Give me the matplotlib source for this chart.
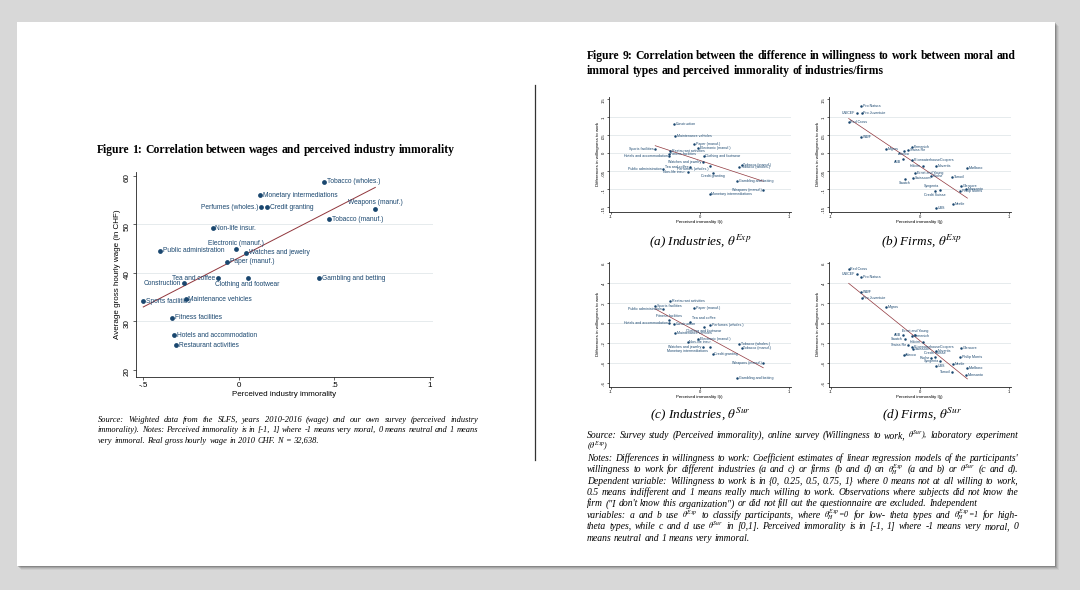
import numpy as np
import matplotlib
matplotlib.use('Agg')
import matplotlib.pyplot as plt
from matplotlib.patches import Rectangle
from matplotlib.lines import Line2D

W, H = 1080, 590

# ---- values ----
industries = ['Tobacco (wholes.)', 'Monetary intermediations', 'Perfumes (wholes.)', 'Credit granting',
              'Weapons (manuf.)', 'Tobacco (manuf.)', 'Non-life insur.', 'Electronic (manuf.)',
              'Public administration', 'Watches and jewelry', 'Paper (manuf.)', 'Tea and coffee',
              'Clothing and footwear', 'Gambling and betting', 'Construction', 'Maintenance vehicles',
              'Sports facilities', 'Fitness facilities', 'Hotels and accommodation', 'Restaurant activities']
industry_immorality = [0.445, 0.112, 0.117, 0.147, 0.714, 0.472, -0.137, -0.015, -0.413, 0.037,
                       -0.062, -0.109, 0.046, 0.421, -0.287, -0.278, -0.500, -0.350, -0.340, -0.329]
industry_wage = [58.7, 56.0, 53.5, 53.5, 53.2, 51.0, 49.2, 44.8, 44.5, 44.15,
                 42.3, 38.9, 38.9, 38.9, 37.8, 34.6, 34.1, 30.7, 27.1, 25.1]
industry_diff_exp = [-0.039, -0.112, -0.035, -0.054, -0.101, -0.032, -0.051, 0.015, -0.044, -0.024,
                     0.026, -0.038, -0.008, -0.078, 0.080, 0.048, 0.010, -0.003, -0.007, 0.005]
industry_diff_sur = [-0.215, -0.241, -0.020, -0.312, -0.399, -0.255, -0.188, -0.164, 0.137, -0.241,
                     0.151, 0.010, -0.045, -0.556, -0.010, -0.104, 0.168, 0.030, -0.003, 0.225]

firms = ['Pro Natura', 'UNICEF', 'Pro Juventute', 'Red Cross', 'WWF', 'Migros', 'Firmenich', 'Swiss Re',
         'Adecco', 'ABB', 'PricewaterhouseCoopers', 'Holcim', 'Novartis', 'Marlboro', 'Ernst and Young',
         'Roche', 'Tamoil', 'Swisscom', 'Swatch', 'Glencore', 'Monsanto', 'Philip Morris', 'Syngenta',
         'Credit Suisse', 'Nestle', 'UBS']
firm_immorality = [-0.659, -0.704, -0.652, -0.798, -0.655, -0.375, -0.086, -0.127, -0.180, -0.191,
                   -0.090, 0.037, 0.180, 0.536, -0.052, 0.131, 0.367, -0.075, -0.169, 0.468,
                   0.517, 0.457, 0.232, 0.169, 0.378, 0.187]
firm_diff_exp = [0.130, 0.110, 0.111, 0.085, 0.044, 0.012, 0.018, 0.008, 0.007, -0.015,
                 -0.018, -0.035, -0.035, -0.042, -0.054, -0.063, -0.067, -0.069, -0.072, -0.090,
                 -0.098, -0.106, -0.102, -0.106, -0.142, -0.151]
firm_diff_sur = [0.459, 0.493, 0.255, 0.543, 0.315, 0.164, -0.131, -0.225, -0.325, -0.124,
                 -0.238, -0.188, -0.278, -0.456, -0.117, -0.349, -0.489, -0.258, -0.164, -0.251,
                 -0.523, -0.345, -0.386, -0.339, -0.412, -0.432]

# fitted lines as drawn (intercept, slope)
fit_wage = (43.1, 20.26)
fit_ind_exp = (-0.020, -0.081)
fit_ind_sur = (-0.102, -0.487)
fit_firm_exp = (-0.036, -0.165)
fit_firm_sur = (-0.176, -0.720)

NAVY = '#1a476f'
MAROON = '#90353b'
GRID = '#e2e8ea'
SANS = 'Liberation Sans'
SERIF = 'Liberation Serif'

plt.rcParams['mathtext.fontset'] = 'stix'
fig = plt.figure(figsize=(W / 100, H / 100), dpi=100, facecolor='#d8d8d8')
R = fig.canvas.get_renderer()


def rect(x0, y0, x1, y1):
    return [x0 / W, 1 - y1 / H, (x1 - x0) / W, (y1 - y0) / H]


# page with a soft shadow (kept behind the axes)
for off, a in [(4, 0.05), (3, 0.08), (2, 0.12), (1, 0.18)]:
    fig.patches.append(Rectangle(((17 + off) / W, 1 - (566 + off) / H), 1038 / W, 544 / H,
                                 transform=fig.transFigure, facecolor='black', alpha=a,
                                 edgecolor='none', zorder=-10))
fig.patches.append(Rectangle((17 / W, 1 - 566 / H), 1038 / W, 544 / H, transform=fig.transFigure,
                             facecolor='white', edgecolor='none', zorder=-9))
fig.add_artist(Line2D([535 / W, 535 / W], [1 - 85 / H, 1 - 460 / H], color='#333333', lw=0.9))


def width_of(s, **kw):
    t = fig.text(0, 0, s, **kw)
    w = t.get_window_extent(R).width
    t.remove()
    return w


def fit_size(lines, target, size, **kw):
    # largest font size at which every justified line still fits its width
    return min(size * target / width_of(s, fontsize=size, **kw) for s in lines)


def text_line(s, x0, y, x1=None, fontsize=7, **kw):
    words = s.split(' ')
    # math tokens (theta with super/subscripts) a little smaller so they stay inside the line
    arts = [fig.text(x0 / W, 1 - y / H, w, ha='left', va='baseline',
                     fontsize=fontsize * (0.85 if '$' in w else 1), **kw) for w in words]
    ws = [a.get_window_extent(R).width for a in arts]
    space = width_of('a b', fontsize=fontsize, **kw) - width_of('ab', fontsize=fontsize, **kw)
    gap = space if x1 is None else max((x1 - x0 - sum(ws)) / (len(words) - 1), 1.2)
    x = x0
    for a, w in zip(arts, ws):
        a.set_x(x / W)
        x += w + gap


def scatter(box, x, y, names, fit, xlim, ylim, xticks, xlabs, yticks, ylabs, xlabel, ylabel,
            ms, fs, tfs, lfs, lw, places):
    ax = fig.add_axes(rect(*box))
    ax.set_facecolor('white')
    for t in yticks[1:-1]:
        ax.axhline(t, color=GRID, lw=0.6, zorder=0)
    x = np.array(x)
    xs = np.array([x.min(), x.max()])
    ax.plot(xs, fit[0] + fit[1] * xs, color=MAROON, lw=lw, zorder=2)
    ax.scatter(x, y, s=ms, color=NAVY, zorder=3, linewidths=0)
    gap = 2.0 if fs > 4 else 1.2
    for xi, yi, nm in zip(x, y, names):
        p = places.get(nm, 'r')
        off, ha, va = {'r': ((gap, 0), 'left', 'center'), 'l': ((-gap, 0), 'right', 'center'),
                       't': ((0, gap), 'center', 'bottom'), 'b': ((0, -gap), 'center', 'top'),
                       'br': ((gap, -gap), 'left', 'top'), 'tr': ((gap, gap), 'left', 'bottom'),
                       'bl': ((-gap, -gap), 'right', 'top'), 'tl': ((-gap, gap), 'right', 'bottom')}[p]
        ax.annotate(nm, (xi, yi), xytext=off, textcoords='offset points', ha=ha, va=va,
                    fontsize=fs, color=NAVY, family=SANS, zorder=4)
    ax.set_xlim(*xlim)
    ax.set_ylim(*ylim)
    ax.set_xticks(xticks)
    ax.set_xticklabels(xlabs)
    ax.set_yticks(yticks)
    ax.set_yticklabels(ylabs)
    for s in ['top', 'right']:
        ax.spines[s].set_visible(False)
    for s in ['left', 'bottom']:
        ax.spines[s].set_color('#222222')
        ax.spines[s].set_linewidth(0.6)
    ax.tick_params(length=2.2 if tfs > 4 else 1.4, width=0.5, color='#222222', labelsize=tfs,
                   pad=1.5 if tfs > 4 else 1.0)
    ax.tick_params(axis='y', labelrotation=90)
    for t in ax.get_xticklabels() + ax.get_yticklabels():
        t.set_family(SANS)
    ax.set_xlabel(xlabel, fontsize=lfs, family=SANS, labelpad=1.5 if lfs > 4 else 1.0)
    ax.set_ylabel(ylabel, fontsize=lfs, family=SANS, labelpad=2 if lfs > 4 else 1.0)
    return ax


bold = dict(family=SERIF, weight='bold')
ital = dict(family=SERIF, style='italic')

# ---------------- Figure 1 ----------------
t1 = 'Figure 1: Correlation between wages and perceived industry immorality'
fs_t = fit_size([t1], 453 - 97, 8, **bold)
text_line(t1, 97, 153, **bold, fontsize=fs_t)

places1 = {'Perfumes (wholes.)': 'l', 'Weapons (manuf.)': 't', 'Electronic (manuf.)': 't',
           'Tea and coffee': 'l', 'Clothing and footwear': 'b', 'Construction': 'l'}
scatter((136, 171.7, 433, 377), industry_immorality, industry_wage, industries, fit_wage,
        (-0.538, 1.016), (18.56, 60.8), [-0.5, 0, 0.5, 1], ['-.5', '0', '.5', '1'],
        [20, 30, 40, 50, 60], ['20', '30', '40', '50', '60'],
        'Perceived industry immorality', 'Average gross hourly wage (in CHF)',
        ms=12, fs=4.8, tfs=5.8, lfs=5.8, lw=0.7, places=places1)

src1 = ['Source: Weighted data from the SLFS, years 2010-2016 (wage) and our own survey (perceived industry',
        'immorality). Notes: Perceived immorality is in [-1, 1] where -1 means very moral, 0 means neutral and 1 means',
        'very immoral. Real gross hourly wage in 2010 CHF. N = 32,638.']
fs_s = fit_size(src1[:2], 478 - 98, 7, **ital)
for i, s in enumerate(src1):
    text_line(s, 98, 422 + 10.3 * i, 478 if i < 2 else None, **ital, fontsize=fs_s)

# ---------------- Figure 9 ----------------
t9 = ['Figure 9: Correlation between the difference in willingness to work between moral and',
      'immoral types and perceived immorality of industries/firms']
fs_t9 = fit_size(t9[:1], 1017 - 587, 8, **bold)
text_line(t9[0], 587, 59, **bold, fontsize=fs_t9)
text_line(t9[1], 587, 74, **bold, fontsize=fs_t9)

small = dict(ms=3.2, fs=2.6, tfs=3.0, lfs=3.2, lw=0.5)
yt1 = [-0.15, -0.1, -0.05, 0, 0.05, 0.1, 0.15]
yl1 = ['-.15', '-.1', '-.05', '0', '.05', '.1', '.15']
yt2 = [-0.6, -0.4, -0.2, 0, 0.2, 0.4, 0.6]
yl2 = ['-.6', '-.4', '-.2', '0', '.2', '.4', '.6']
ylab = 'Differences in willingness to work'

places_a = {'Sports facilities': 'l', 'Hotels and accommodation': 'l', 'Watches and jewelry': 'l',
            'Tea and coffee': 'l', 'Public administration': 'l', 'Non-life insur.': 'l',
            'Perfumes (wholes.)': 'bl', 'Credit granting': 'b', 'Weapons (manuf.)': 'l'}
places_b = {'UNICEF': 'l', 'ABB': 'bl', 'Adecco': 'b', 'Holcim': 'l', 'Swatch': 'b',
            'Credit Suisse': 'b', 'Syngenta': 'tl'}
places_c = {'Public administration': 'l', 'Hotels and accommodation': 'l', 'Fitness facilities': 't',
            'Tea and coffee': 'tr', 'Clothing and footwear': 'b', 'Watches and jewelry': 'l',
            'Monetary intermediations': 'bl', 'Weapons (manuf.)': 'l'}
places_d = {'UNICEF': 'l', 'ABB': 'l', 'Swatch': 'l', 'Holcim': 'l', 'Swiss Re': 'l',
            'Ernst and Young': 't', 'Roche': 'l', 'Credit Suisse': 't', 'Syngenta': 'l', 'Tamoil': 'l'}

scatter((609, 96.7, 790.5, 211.7), industry_immorality, industry_diff_exp, industries, fit_ind_exp,
        (-1.019, 1.02), (-0.162, 0.156), [-1, 0, 1], ['-1', '0', '1'], yt1, yl1,
        'Perceived immorality I(i)', ylab, places=places_a, **small)
scatter((829, 96.7, 1010.5, 211.7), firm_immorality, firm_diff_exp, firms, fit_firm_exp,
        (-1.019, 1.02), (-0.162, 0.156), [-1, 0, 1], ['-1', '0', '1'], yt1, yl1,
        'Perceived immorality I(j)', ylab, places=places_b, **small)
scatter((609, 261.7, 790.5, 386.7), industry_immorality, industry_diff_sur, industries, fit_ind_sur,
        (-1.019, 1.02), (-0.640, 0.616), [-1, 0, 1], ['-1', '0', '1'], yt2, yl2,
        'Perceived immorality I(i)', ylab, places=places_c, **small)
scatter((829, 261.7, 1010.5, 386.7), firm_immorality, firm_diff_sur, firms, fit_firm_sur,
        (-1.019, 1.02), (-0.640, 0.616), [-1, 0, 1], ['-1', '0', '1'], yt2, yl2,
        'Perceived immorality I(j)', ylab, places=places_d, **small)

caps = [(700, 245, r'(a) Industries, $\theta^{Exp}$'), (922, 245, r'(b) Firms, $\theta^{Exp}$'),
        (700, 418, r'(c) Industries, $\theta^{Sur}$'), (922, 418, r'(d) Firms, $\theta^{Sur}$')]
for cx, cy, s in caps:
    fig.text(cx / W, 1 - cy / H, s, ha='center', va='baseline', **ital, fontsize=9.5)

notes = [
    (r'Source: Survey study (Perceived immorality), online survey (Willingness to work, $\theta^{Sur}$), laboratory experiment', True),
    (r'($\theta^{Exp}$)', False),
    ("Notes: Differences in willingness to work: Coefficient estimates of linear regression models of the participants'", True),
    (r'willingness to work for different industries (a and c) or firms (b and d) on $\theta_H^{Exp}$ (a and b) or $\theta^{Sur}$ (c and d).', True),
    ('Dependent variable: Willingness to work is in {0, 0.25, 0.5, 0.75, 1} where 0 means not at all willing to work,', True),
    ('0.5 means indifferent and 1 means really much willing to work. Observations where subjects did not know the', True),
    ('firm ("I don\'t know this organization") or did not fill out the questionnaire are excluded. Independent', False),
    (r'variables: a and b use $\theta^{Exp}$ to classify participants, where $\theta_H^{Exp}$=0 for low- theta types and $\theta_H^{Exp}$=1 for high-', True),
    (r'theta types, while c and d use $\theta^{Sur}$ in [0,1]. Perceived immorality is in [-1, 1] where -1 means very moral, 0', True),
    ('means neutral and 1 means very immoral.', False),
]
fs_n = fit_size([s for s, j in notes if j], 1018 - 587, 7, **ital)
for i, (s, just) in enumerate(notes):
    text_line(s, 587, 438 + 11.4 * i, 1018 if just else None, **ital, fontsize=fs_n)

fig.savefig('out.png', dpi=100, facecolor=fig.get_facecolor())
